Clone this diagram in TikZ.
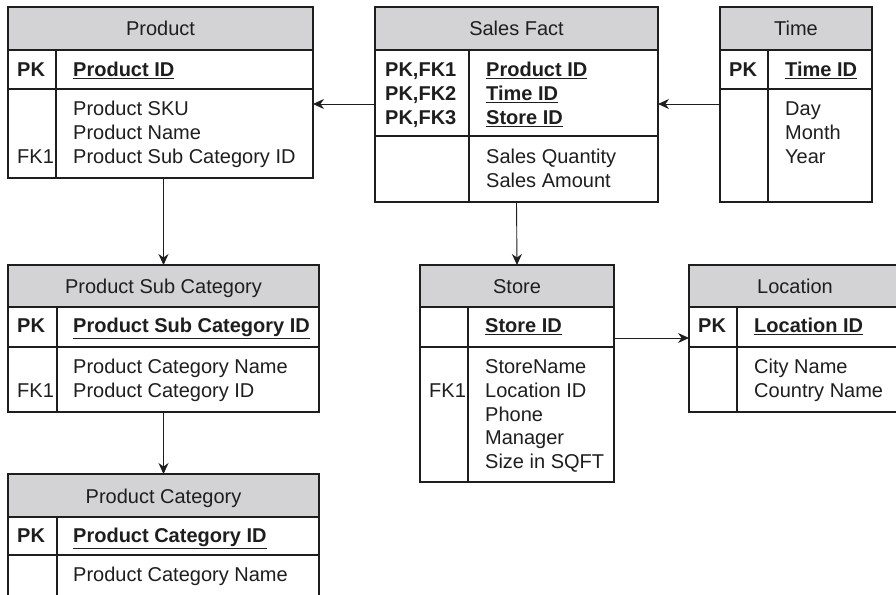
\documentclass[tikz,border=0pt]{standalone}
\usepackage{fontspec}
\setmainfont{Liberation Sans}
\usetikzlibrary{arrows.meta, positioning}
\definecolor{hdrgray}{RGB}{211,211,213}
\definecolor{ink}{RGB}{30,30,30}

\begin{document}
\begin{tikzpicture}[x=1pt, y=-1pt,
    every node/.style={font=\fontsize{20}{23.7}\selectfont, text=ink},
    tbl/.style={rectangle, draw=ink, line width=1.1pt, inner sep=0pt, outer sep=0pt, anchor=north west},
    head/.style={tbl, fill=hdrgray, text height=15pt, text depth=0pt},
    txt/.style={anchor=north west, inner sep=0pt, align=left},
    keytxt/.style={txt, font=\fontsize{20}{23.7}\selectfont\bfseries},
    sep/.style={draw=ink, line width=1.1pt},
    link/.style={draw=ink, line width=0.9pt, -{Stealth[length=11pt, width=10pt]}}]
    \path[use as bounding box, fill=white] (0,0) rectangle (896,594);

    % Product
    \node[head, minimum width=305pt, minimum height=43pt] (prod) at (8,7) {Product};
    \node[tbl, minimum width=305pt, minimum height=39pt] (prod-pk) at (prod.south west) {};
    \node[tbl, minimum width=305pt, minimum height=89pt] (prod-body) at (prod-pk.south west) {};
    \draw[sep] ([xshift=48pt]prod-pk.north west) -- ([xshift=48pt]prod-body.south west);
    \node[keytxt] (prod-k1) at ([xshift=9pt, yshift=-10pt]prod-pk.north west) {\strut PK};
    \node[keytxt] (prod-f1) at ([xshift=65pt, yshift=-10pt]prod-pk.north west) {\strut\underline{Product ID}};
    \node[txt] (prod-k2) at ([xshift=9pt, yshift=-10pt]prod-body.north west) {\strut\\\strut\\FK1};
    \node[txt] (prod-f2) at ([xshift=65pt, yshift=-10pt]prod-body.north west) {\strut Product SKU\\Product Name\\Product Sub Category ID};

    % Sales Fact
    \node[head, minimum width=283pt, minimum height=43pt] (sales) at (375,7) {Sales Fact};
    \node[tbl, minimum width=283pt, minimum height=86pt] (sales-pk) at (sales.south west) {};
    \node[tbl, minimum width=283pt, minimum height=66pt] (sales-body) at (sales-pk.south west) {};
    \draw[sep] ([xshift=94pt]sales-pk.north west) -- ([xshift=94pt]sales-body.south west);
    \node[keytxt] (sales-k1) at ([xshift=10pt, yshift=-10pt]sales-pk.north west) {\strut PK,FK1\\PK,FK2\\PK,FK3};
    \node[keytxt] (sales-f1) at ([xshift=111pt, yshift=-10pt]sales-pk.north west) {\strut\underline{Product ID}\\\underline{Time ID}\\\underline{Store ID}};
    \node[txt] (sales-f2) at ([xshift=111pt, yshift=-11pt]sales-body.north west) {\strut Sales Quantity\\Sales Amount};

    % Time
    \node[head, minimum width=152pt, minimum height=43pt] (time) at (720,7) {Time};
    \node[tbl, minimum width=152pt, minimum height=39pt] (time-pk) at (time.south west) {};
    \node[tbl, minimum width=152pt, minimum height=113pt] (time-body) at (time-pk.south west) {};
    \draw[sep] ([xshift=48pt]time-pk.north west) -- ([xshift=48pt]time-body.south west);
    \node[keytxt] (time-k1) at ([xshift=9pt, yshift=-10pt]time-pk.north west) {\strut PK};
    \node[keytxt] (time-f1) at ([xshift=65pt, yshift=-10pt]time-pk.north west) {\strut\underline{Time ID}};
    \node[txt] (time-f2) at ([xshift=65pt, yshift=-10pt]time-body.north west) {\strut Day\\Month\\Year};

    % Product Sub Category
    \node[head, minimum width=311pt, minimum height=42pt] (subcat) at (8,265) {Product Sub Category};
    \node[tbl, minimum width=311pt, minimum height=40pt] (subcat-pk) at (subcat.south west) {};
    \node[tbl, minimum width=311pt, minimum height=65pt] (subcat-body) at (subcat-pk.south west) {};
    \draw[sep] ([xshift=49pt]subcat-pk.north west) -- ([xshift=49pt]subcat-body.south west);
    \node[keytxt] (subcat-k1) at ([xshift=9pt, yshift=-9pt]subcat-pk.north west) {\strut PK};
    \node[keytxt] (subcat-f1) at ([xshift=65pt, yshift=-9pt]subcat-pk.north west) {\strut\underline{Product Sub Category ID}};
    \node[txt] (subcat-k2) at ([xshift=9pt, yshift=-10pt]subcat-body.north west) {\strut\\FK1};
    \node[txt] (subcat-f2) at ([xshift=65pt, yshift=-10pt]subcat-body.north west) {\strut Product Category Name\\Product Category ID};

    % Product Category
    \node[head, minimum width=311pt, minimum height=43pt] (cat) at (8,474) {Product Category};
    \node[tbl, minimum width=311pt, minimum height=38pt] (cat-pk) at (cat.south west) {};
    \node[tbl, minimum width=311pt, minimum height=70pt] (cat-body) at (cat-pk.south west) {};
    \draw[sep] ([xshift=49pt]cat-pk.north west) -- ([xshift=49pt]cat-body.south west);
    \node[keytxt] (cat-k1) at ([xshift=9pt, yshift=-9pt]cat-pk.north west) {\strut PK};
    \node[keytxt] (cat-f1) at ([xshift=65pt, yshift=-9pt]cat-pk.north west) {\strut\underline{Product Category ID}};
    \node[txt] (cat-f2) at ([xshift=65pt, yshift=-10pt]cat-body.north west) {\strut Product Category Name};

    % Store
    \node[head, minimum width=194pt, minimum height=42pt] (store) at (420,265) {Store};
    \node[tbl, minimum width=194pt, minimum height=40pt] (store-pk) at (store.south west) {};
    \node[tbl, minimum width=194pt, minimum height=135pt] (store-body) at (store-pk.south west) {};
    \draw[sep] ([xshift=48pt]store-pk.north west) -- ([xshift=48pt]store-body.south west);
    \node[keytxt] (store-f1) at ([xshift=65pt, yshift=-9pt]store-pk.north west) {\strut\underline{Store ID}};
    \node[txt] (store-k2) at ([xshift=9pt, yshift=-10pt]store-body.north west) {\strut\\FK1};
    \node[txt] (store-f2) at ([xshift=65pt, yshift=-10pt]store-body.north west) {\strut StoreName\\Location ID\\Phone\\Manager\\Size in SQFT};

    % Location
    \node[head, minimum width=212pt, minimum height=42pt] (loc) at (689,265) {Location};
    \node[tbl, minimum width=212pt, minimum height=40pt] (loc-pk) at (loc.south west) {};
    \node[tbl, minimum width=212pt, minimum height=65pt] (loc-body) at (loc-pk.south west) {};
    \draw[sep] ([xshift=48pt]loc-pk.north west) -- ([xshift=48pt]loc-body.south west);
    \node[keytxt] (loc-k1) at ([xshift=9pt, yshift=-9pt]loc-pk.north west) {\strut PK};
    \node[keytxt] (loc-f1) at ([xshift=65pt, yshift=-9pt]loc-pk.north west) {\strut\underline{Location ID}};
    \node[txt] (loc-f2) at ([xshift=65pt, yshift=-10pt]loc-body.north west) {\strut City Name\\Country Name};

    % links
    \coordinate (sf-out) at ([yshift=-54pt]sales-pk.north west);
    \coordinate (sf-in) at ([yshift=-54pt]sales-pk.north east);
    \coordinate (st-out) at ([yshift=-31pt]store-pk.north east);
    \draw[link] (sf-out) -- (sf-out -| prod.east);
    \draw[link] (sf-in -| time.west) -- (sf-in);
    \draw[link] (prod-body.south -| subcat.north) -- (subcat.north);
    \draw[link] (subcat-body.south) -- (cat.north);
    \draw[link] (sales-body.south) -- (store.north);
    \draw[link] (st-out) -- (st-out -| loc.west);
\end{tikzpicture}
\end{document}
